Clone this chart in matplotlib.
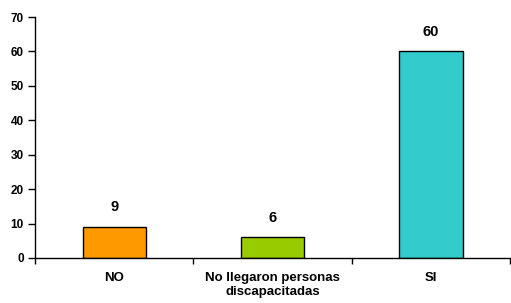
import matplotlib
matplotlib.use("Agg")
import matplotlib.pyplot as plt
import numpy as np

categories = ["NO", "No llegaron personas\ndiscapacitadas", "SI"]
values = [9, 6, 60]
colors = ["#FF9900", "#99CC00", "#33CCCC"]
yticks = [0, 10, 20, 30, 40, 50, 60, 70]

plt.rcParams['font.family'] = ['Liberation Sans', 'DejaVu Sans']
fig = plt.figure(figsize=(5.11, 3.03), dpi=100)
ax = fig.add_axes([35/511, 45/303, 475/511, 241/303])

x = np.arange(len(categories))
bars = ax.bar(x, values, width=0.4, color=colors, edgecolor="black", linewidth=1)
for xi, v in zip(x, values):
    ax.text(xi, v + 3.7, str(v), ha="center", va="bottom", fontsize=10.5, fontweight="bold")

ax.set_xlim(-0.5, len(categories) - 0.5)
ax.set_ylim(0, 70)
ax.set_yticks(yticks)
ax.set_yticklabels([str(t) for t in yticks], fontsize=8.5, fontweight="bold")
ax.set_xticks(np.arange(len(categories) + 1) - 0.5)
ax.set_xticklabels([])
ax.set_xticks(x, minor=True)
ax.set_xticklabels(categories, minor=True, fontsize=9.5, fontweight="bold")
ax.tick_params(axis="x", which="minor", length=0, pad=10)
ax.tick_params(axis="x", which="major", length=4, direction="out", width=1)
ax.tick_params(axis="y", length=5, width=1, pad=3)
ax.spines["top"].set_visible(False)
ax.spines["right"].set_visible(False)
ax.spines["left"].set_linewidth(1)
ax.spines["bottom"].set_linewidth(1)

fig.savefig("out.png", dpi=100)
